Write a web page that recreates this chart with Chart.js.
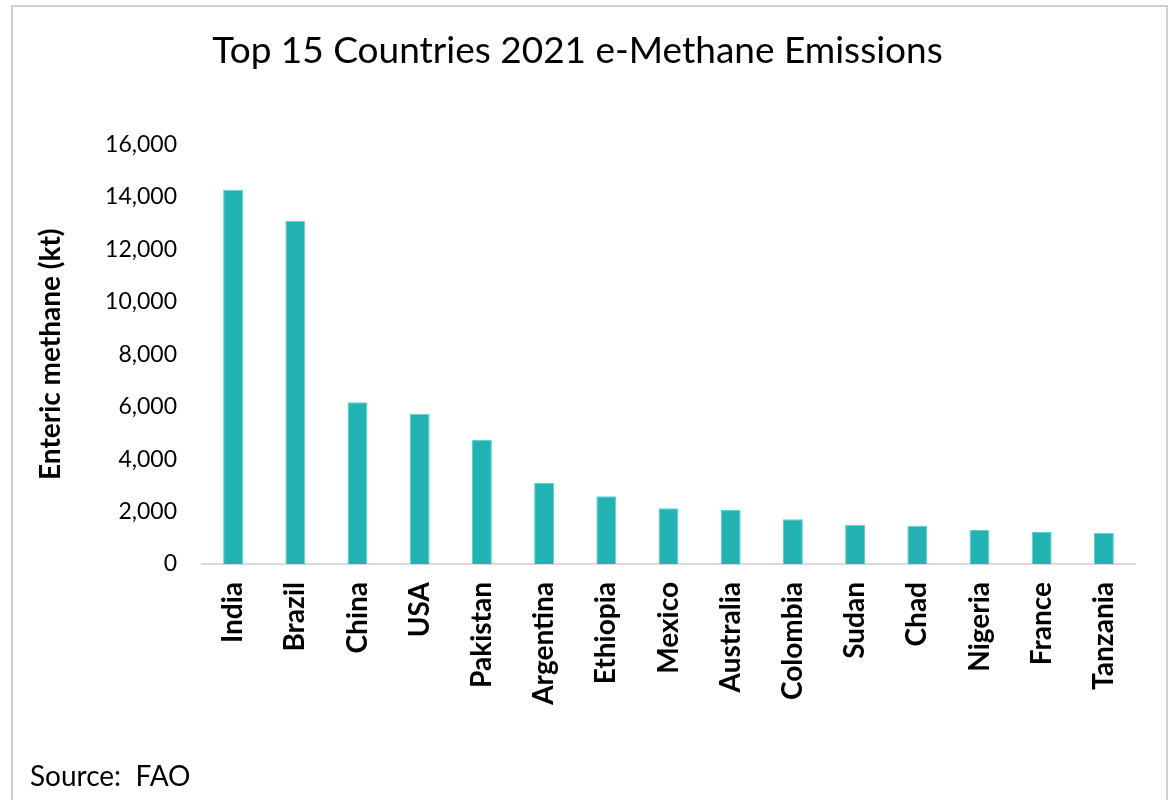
<!DOCTYPE html>
<html>
<head>
<meta charset="utf-8">
<title>Top 15 Countries 2021 e-Methane Emissions</title>
<script src="https://cdn.jsdelivr.net/npm/chart.js@4.4.0/dist/chart.umd.min.js"></script>
<style>
  html, body { margin: 0; padding: 0; background: #fff; overflow: hidden; }
  #wrap { position: relative; width: 1172px; height: 800px; }
  #frame {
    position: absolute; left: 11px; top: 5px; width: 1157px; height: 830px;
    border: 2px solid #d0d0d0; box-sizing: border-box;
  }
  #source {
    position: absolute; left: 30px; top: 758px;
    font-family: Lato, sans-serif; font-size: 28px; color: #000;
    white-space: pre;
  }
</style>
</head>
<body>
<div id="wrap">
  <div id="frame"></div>
  <canvas id="myChart"></canvas>
  <div id="source">Source:  FAO</div>
</div>
<script>
// data
const countries = [
  "India", "Brazil", "China", "USA", "Pakistan", "Argentina", "Ethiopia",
  "Mexico", "Australia", "Colombia", "Sudan", "Chad", "Nigeria", "France", "Tanzania"
];
const methaneKt = [
  14270, 13080, 6170, 5730, 4740, 3090, 2580,
  2130, 2060, 1710, 1490, 1460, 1300, 1220, 1190
];
const yTicks = [0, 2000, 4000, 6000, 8000, 10000, 12000, 14000, 16000];

const ctx = document.getElementById("myChart");

let myChart = new Chart(ctx, {
  type: "bar",
  data: {
    labels: countries,
    datasets: [
      {
        label: "Enteric methane (kt)",
        data: methaneKt,
        backgroundColor: "#23b2b4",
        borderColor: "#5ccfd0",
        borderWidth: 1,
        barPercentage: 0.32,
        categoryPercentage: 1,
      },
    ],
  },
  options: {
    responsive: true,
    maintainAspectRatio: false,
    animation: false,
    layout: { padding: { left: 20, right: 37, top: 0, bottom: 0 } },
    plugins: {
      legend: { display: false },
      tooltip: { enabled: false },
      title: {
        display: true,
        text: "Top 15 Countries 2021 e-Methane Emissions",
        color: "#000",
        font: { family: "Lato", size: 37, weight: "normal" },
        padding: { top: 29, bottom: 71 },
      },
    },
    scales: {
      x: {
        grid: { display: false, drawTicks: false },
        border: { display: true, color: "#d9d9d9", width: 2 },
        ticks: {
          color: "#000",
          font: { family: "Lato", size: 28, weight: "bold" },
          minRotation: 90,
          maxRotation: 90,
          autoSkip: false,
          padding: 18,
        },
        afterFit: function (scale) {
          scale.height = 236;
        },
      },
      y: {
        min: 0,
        max: 16000,
        grid: { display: false, drawTicks: false },
        border: { display: false },
        afterBuildTicks: function (scale) {
          scale.ticks = yTicks.map((v) => ({ value: v }));
        },
        ticks: {
          color: "#000",
          font: { family: "Lato", size: 23 },
          padding: 25,
          callback: function (value) {
            return value.toLocaleString("en-US");
          },
        },
        title: {
          display: true,
          text: "Enteric methane (kt)",
          color: "#000",
          font: { family: "Lato", size: 28, weight: "bold" },
          padding: { top: 14, bottom: 0 },
        },
        afterFit: function (scale) {
          scale.width = 182;
        },
      },
    },
  },
});
</script>
</body>
</html>
